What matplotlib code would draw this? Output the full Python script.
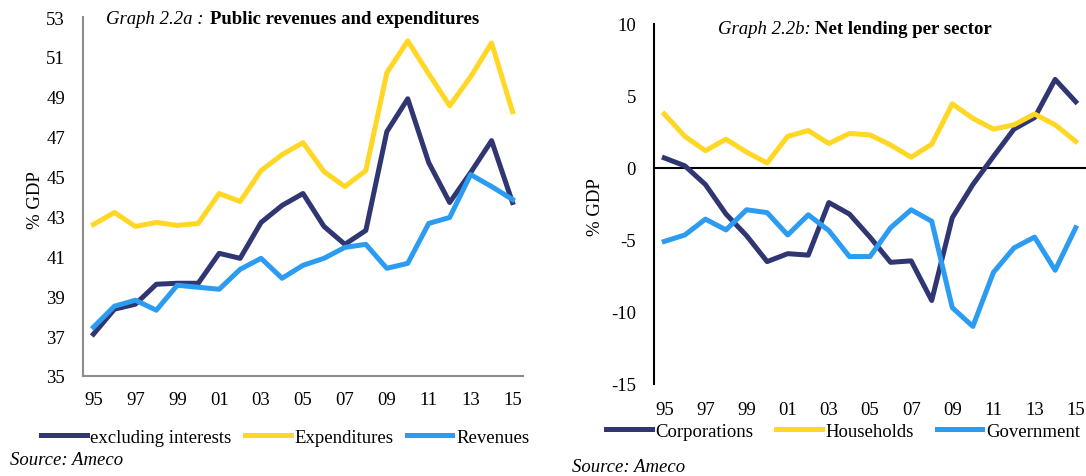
import numpy as np
import matplotlib
matplotlib.use("Agg")
import matplotlib.pyplot as plt
from matplotlib.lines import Line2D

plt.rcParams["font.family"] = ["Liberation Serif", "DejaVu Serif"]
plt.rcParams["axes.unicode_minus"] = False

years = ["95", "96", "97", "98", "99", "00", "01", "02", "03", "04", "05",
         "06", "07", "08", "09", "10", "11", "12", "13", "14", "15"]

# graph 2.2a
excl_interests = [37.1, 38.35, 38.6, 39.6, 39.65, 39.65, 41.15, 40.9, 42.7, 43.55, 44.15,
                  42.5, 41.6, 42.3, 47.25, 48.9, 45.7, 43.7, 45.2, 46.8, 43.7]
expenditures = [42.6, 43.2, 42.5, 42.7, 42.55, 42.65, 44.15, 43.75, 45.3, 46.1, 46.7,
                45.25, 44.5, 45.3, 50.2, 51.8, 50.15, 48.55, 50.0, 51.7, 48.25]
revenues = [37.45, 38.5, 38.8, 38.3, 39.55, 39.45, 39.35, 40.35, 40.9, 39.9, 40.55,
            40.9, 41.45, 41.6, 40.4, 40.65, 42.65, 42.95, 45.1, 44.5, 43.85]

# graph 2.2b
corporations = [0.7, 0.15, -1.15, -3.2, -4.7, -6.5, -5.95, -6.05, -2.4, -3.2, -4.8,
                -6.55, -6.45, -9.2, -3.45, -1.15, 0.8, 2.7, 3.5, 6.15, 4.6]
households = [3.75, 2.2, 1.2, 2.0, 1.1, 0.35, 2.2, 2.6, 1.7, 2.4, 2.3,
              1.6, 0.75, 1.65, 4.45, 3.45, 2.7, 3.0, 3.75, 3.0, 1.85]
government = [-5.1, -4.65, -3.55, -4.3, -2.9, -3.1, -4.65, -3.25, -4.35, -6.15, -6.15,
              -4.15, -2.9, -3.7, -9.7, -11.0, -7.25, -5.55, -4.8, -7.1, -4.15]

dark = "#2f3672"
yellow = "#ffd724"
blue = "#2b9cf2"
lw = 3.6
fs = 13.5

W, H = 1086, 477
fig = plt.figure(figsize=(W / 100, H / 100), dpi=100)


def px(x0, y0, x1, y1):
    return [x0 / W, 1 - y1 / H, (x1 - x0) / W, (y1 - y0) / H]


x = np.arange(len(years))

# ---- left chart
ax1 = fig.add_axes(px(83, 18, 523, 377))
ax1.plot(x, excl_interests, color=dark, lw=lw)
ax1.plot(x, expenditures, color=yellow, lw=lw)
ax1.plot(x, revenues, color=blue, lw=lw)
ax1.set_xlim(-0.5, 20.5)
ax1.set_ylim(35, 53)
ax1.set_yticks(np.arange(35, 54, 2))
ax1.set_xticks(x[::2])
ax1.set_xticklabels(years[::2])
for s in ["top", "right"]:
    ax1.spines[s].set_visible(False)
for s in ["left", "bottom"]:
    ax1.spines[s].set_color("#8c8c8c")
    ax1.spines[s].set_linewidth(1.5)
ax1.tick_params(axis="both", length=0, labelsize=fs)
ax1.tick_params(axis="y", pad=13)
ax1.tick_params(axis="x", pad=11)
fig.text(35 / W, 1 - 200 / H, "% GDP", rotation=90, ha="center", va="center", fontsize=fs)
fig.text(208 / W, 1 - 20 / H, "Graph 2.2a : ", style="italic", ha="right", va="center", fontsize=fs)
fig.text(210 / W, 1 - 20 / H, "Public revenues and expenditures", weight="bold", ha="left", va="center", fontsize=fs)

h1 = [Line2D([], [], color=c, lw=lw) for c in (dark, yellow, blue)]
fig.legend(h1, ["excluding interests", "Expenditures", "Revenues"], loc="center",
           bbox_to_anchor=(285 / W, 1 - 438 / H), ncol=3, frameon=False, fontsize=fs,
           handlelength=2.45, handletextpad=0.2, columnspacing=0.7)
fig.text(10 / W, 1 - 461 / H, "Source: Ameco", style="italic", ha="left", va="center", fontsize=fs)

# ---- right chart
ax2 = fig.add_axes(px(654, 25, 1086, 385))
ax2.plot(x, corporations, color=dark, lw=lw)
ax2.plot(x, households, color=yellow, lw=lw)
ax2.plot(x, government, color=blue, lw=lw)
ax2.axhline(0, color="black", lw=1.5, zorder=1)
ax2.set_xlim(-0.5, 20.5)
ax2.set_ylim(-15, 10)
ax2.set_yticks(np.arange(-15, 11, 5))
ax2.set_xticks(x[::2])
ax2.set_xticklabels(years[::2])
for s in ["top", "right", "bottom"]:
    ax2.spines[s].set_visible(False)
ax2.spines["left"].set_color("black")
ax2.spines["left"].set_linewidth(1.5)
ax2.tick_params(axis="both", length=0, labelsize=fs)
ax2.tick_params(axis="y", pad=13)
ax2.tick_params(axis="x", pad=12)
fig.text(595 / W, 1 - 207 / H, "% GDP", rotation=90, ha="center", va="center", fontsize=fs)
fig.text(811 / W, 1 - 30 / H, "Graph 2.2b:", style="italic", ha="right", va="center", fontsize=fs)
fig.text(815 / W, 1 - 30 / H, "Net lending per sector", weight="bold", ha="left", va="center", fontsize=fs)

fig.legend(h1, ["Corporations", "Households", "Government"], loc="center",
           bbox_to_anchor=(843 / W, 1 - 432 / H), ncol=3, frameon=False, fontsize=fs,
           handlelength=2.45, handletextpad=0.2, columnspacing=1.2)
fig.text(572 / W, 1 - 468 / H, "Source: Ameco", style="italic", ha="left", va="center", fontsize=fs)

fig.savefig("out.png", dpi=100)
